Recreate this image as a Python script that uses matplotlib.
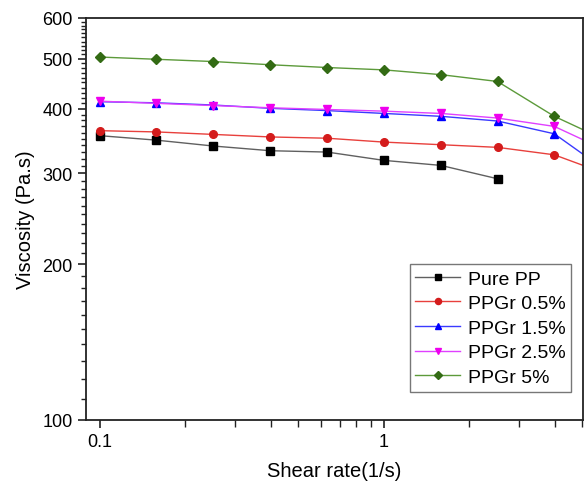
import matplotlib
matplotlib.use("Agg")
import matplotlib.pyplot as plt
from matplotlib.ticker import FixedLocator, NullFormatter, FixedFormatter

plt.rcParams["font.family"] = ["Liberation Sans", "DejaVu Sans"]

# shear rate (1/s), last point lies just past the right edge
shear_rate = [0.1, 0.158, 0.251, 0.398, 0.631, 1.0, 1.585, 2.512, 3.981, 6.31]

pure_pp   = [355, 348, 339, 332, 330, 318, 311, 293]
ppgr_05   = [363, 361, 357, 353, 351, 345, 341, 337, 326, 297]
ppgr_15   = [413, 411, 407, 401, 397, 392, 387, 379, 358, 299]
ppgr_25   = [414, 410, 406, 402, 399, 396, 392, 384, 370, 329]
ppgr_5    = [504, 499, 494, 487, 481, 476, 466, 452, 387, 344]

series = [
    ("Pure PP",    pure_pp, "s", "#606060", "black"),
    ("PPGr 0.5%",  ppgr_05, "o", "#e8403c", "#d41c1c"),
    ("PPGr 1.5%",  ppgr_15, "^", "#3a3aff", "#0000ff"),
    ("PPGr 2.5%",  ppgr_25, "v", "#e040ff", "#ee00ee"),
    ("PPGr 5%",    ppgr_5,  "D", "#5c9a3a", "#336b14"),
]

fig = plt.figure(figsize=(5.87, 4.85), dpi=100)
ax = fig.add_axes([0.1465, 0.132, 0.8465, 0.829])

for label, vals, mk, lc, mc in series:
    ax.plot(shear_rate[:len(vals)], vals, color=lc, linewidth=1.0,
            marker=mk, markersize=5.5, markerfacecolor=mc,
            markeredgecolor=mc, label=label)

ax.set_xscale("log")
ax.set_yscale("log")
ax.set_xlim(0.0893, 5.02)
ax.set_ylim(100, 600)

# y ticks: labelled every 100, minor every 10
ax.yaxis.set_major_locator(FixedLocator([100, 200, 300, 400, 500, 600]))
ax.yaxis.set_major_formatter(FixedFormatter(["100", "200", "300", "400", "500", "600"]))
ax.yaxis.set_minor_locator(FixedLocator([v for v in range(110, 600, 10) if v % 100]))
ax.yaxis.set_minor_formatter(NullFormatter())

ax.xaxis.set_major_locator(FixedLocator([0.1, 1]))
ax.xaxis.set_major_formatter(FixedFormatter(["0.1", "1"]))
ax.xaxis.set_minor_locator(FixedLocator([0.2, 0.3, 0.4, 0.5, 0.6, 0.7, 0.8, 0.9, 2, 3, 4, 5]))
ax.xaxis.set_minor_formatter(NullFormatter())

ax.tick_params(which="major", direction="out", length=6, width=1.2, labelsize=13, color="#222222")
ax.tick_params(which="minor", direction="out", length=3.5, width=1.0, color="#222222")
ax.tick_params(axis="x", which="minor", length=5)
for sp in ax.spines.values():
    sp.set_linewidth(1.3)
    sp.set_color("#222222")

ax.set_xlabel("Shear rate(1/s)", fontsize=14.5, labelpad=8)
ax.set_ylabel("Viscosity (Pa.s)", fontsize=14.5, labelpad=5)

leg = ax.legend(loc="lower right", bbox_to_anchor=(0.977, 0.07), borderaxespad=0,
                fontsize=14, frameon=True, fancybox=False, edgecolor="#555555",
                handlelength=2.3, handletextpad=0.4, labelspacing=0.36,
                borderpad=0.3, markerscale=0.8)
leg.get_frame().set_linewidth(1.0)

fig.savefig("out.png", dpi=100)
